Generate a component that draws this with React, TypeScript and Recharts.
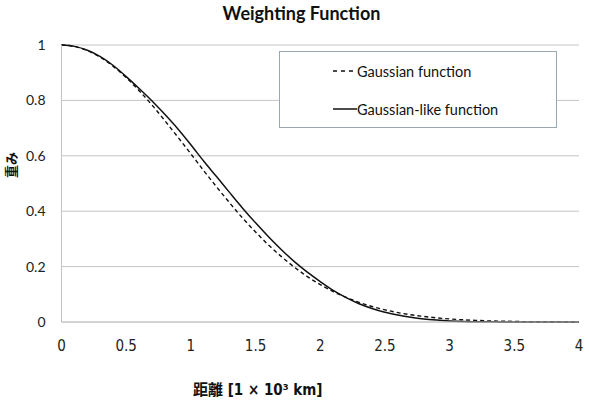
import React from "react";
import { LineChart, Line, XAxis, YAxis, CartesianGrid } from "recharts";

// distance in units of 1000 km
const distance = [
  0, 0.1, 0.2, 0.3, 0.4, 0.5, 0.6, 0.7, 0.8, 0.9, 1.0, 1.1, 1.2, 1.3, 1.4, 1.5, 1.6, 1.7, 1.8, 1.9, 2.0,
  2.1, 2.2, 2.3, 2.4, 2.5, 2.6, 2.7, 2.8, 2.9, 3.0, 3.1, 3.2, 3.3, 3.4, 3.5, 3.6, 3.7, 3.8, 3.9, 4.0,
];

const gaussian = [
  1, 0.995, 0.98, 0.956, 0.923, 0.882, 0.835, 0.783, 0.726, 0.667, 0.607, 0.546, 0.487, 0.43, 0.375, 0.325,
  0.278, 0.236, 0.198, 0.164, 0.135, 0.11, 0.089, 0.071, 0.056, 0.044, 0.034, 0.026, 0.02, 0.015, 0.011,
  0.008, 0.006, 0.004, 0.003, 0.002, 0.001, 0.001, 0.001, 0, 0,
];

const gaussianLike = [
  1, 0.995, 0.981, 0.958, 0.926, 0.886, 0.843, 0.798, 0.749, 0.697, 0.64, 0.58, 0.524, 0.467, 0.411, 0.358,
  0.308, 0.261, 0.218, 0.18, 0.146, 0.114, 0.088, 0.066, 0.049, 0.035, 0.025, 0.017, 0.011, 0.007, 0.004,
  0.002, 0.001, 0.001, 0, 0, 0, 0, 0, 0, 0,
];

const xTicks = [0, 0.5, 1, 1.5, 2, 2.5, 3, 3.5, 4];
const yTicks = [0, 0.2, 0.4, 0.6, 0.8, 1];

const data = distance.map((d, i) => ({ d, gaussian: gaussian[i], gaussianLike: gaussianLike[i] }));

const latin = "Lato, 'Open Sans', sans-serif";
const narrow = "'Liberation Sans Narrow', 'DejaVu Sans Condensed', 'Liberation Sans', sans-serif";

function LegendBox() {
  const row: React.CSSProperties = { display: "flex", alignItems: "center", height: 38 };
  return (
    <div
      style={{
        position: "absolute",
        left: 279,
        top: 51,
        width: 278,
        height: 77,
        border: "1px solid #98a8ae",
        background: "#fff",
        boxSizing: "border-box",
        padding: "0 0 0 53px",
        fontFamily: latin,
        fontSize: 14.5,
        color: "#111",
        zIndex: 2,
      }}
    >
      <div style={row}>
        <svg width={24} height={4}>
          <line x1={0} y1={2} x2={24} y2={2} stroke="#111" strokeWidth={1.3} strokeDasharray="4 4" />
        </svg>
        <span>Gaussian function</span>
      </div>
      <div style={row}>
        <svg width={24} height={4}>
          <line x1={0} y1={2} x2={24} y2={2} stroke="#111" strokeWidth={1.5} />
        </svg>
        <span>Gaussian-like function</span>
      </div>
    </div>
  );
}

export default function App() {
  return (
    <div style={{ position: "absolute", left: 0, top: 0, width: 589, height: 416, background: "#fff" }}>
      <div
        style={{
          position: "absolute",
          left: 0,
          width: 603,
          top: 2,
          textAlign: "center",
          fontFamily: latin,
          fontWeight: 700,
          fontSize: 18,
          color: "#111",
          zIndex: 2,
        }}
      >
        Weighting Function
      </div>
      <div
        style={{
          position: "absolute",
          left: 10,
          top: 165,
          transform: "translate(-50%, -50%) rotate(-90deg)",
          fontFamily: "'Noto Sans CJK JP', sans-serif",
          fontWeight: 700,
          fontSize: 13,
          color: "#111",
          whiteSpace: "nowrap",
          zIndex: 2,
        }}
      >
        重み
      </div>
      <div
        style={{
          position: "absolute",
          left: 193,
          top: 378,
          fontFamily: `${narrow}, 'Noto Sans CJK JP'`,
          fontWeight: 700,
          fontSize: 15,
          color: "#111",
          whiteSpace: "nowrap",
          zIndex: 2,
        }}
      >
        距離 [1 × 10³ km]
      </div>
      <LegendBox />
      <LineChart
        width={589}
        height={416}
        data={data}
        margin={{ top: 45, right: 10, left: 0, bottom: 64 }}
        style={{ position: "absolute", left: 0, top: 0 }}
      >
        <CartesianGrid vertical={false} stroke="#c4c4c4" strokeWidth={1} />
        <XAxis
          dataKey="d"
          type="number"
          domain={[0, 4]}
          ticks={xTicks}
          height={30}
          stroke="#c4c4c4"
          tickLine={false}
          tickSize={0}
          tickMargin={18}
          tick={{ fill: "#222", fontSize: 15, fontFamily: narrow }}
        />
        <YAxis
          type="number"
          domain={[0, 1]}
          ticks={yTicks}
          width={61.5}
          stroke="#c4c4c4"
          tickLine={false}
          tickSize={0}
          tickMargin={16}
          tick={{ fill: "#222", fontSize: 14, fontFamily: latin }}
        />
        <Line
          type="monotone"
          dataKey="gaussian"
          stroke="#111"
          strokeWidth={1.4}
          strokeDasharray="4 3"
          dot={false}
          isAnimationActive={false}
        />
        <Line
          type="monotone"
          dataKey="gaussianLike"
          stroke="#111"
          strokeWidth={1.5}
          dot={false}
          isAnimationActive={false}
        />
      </LineChart>
    </div>
  );
}
